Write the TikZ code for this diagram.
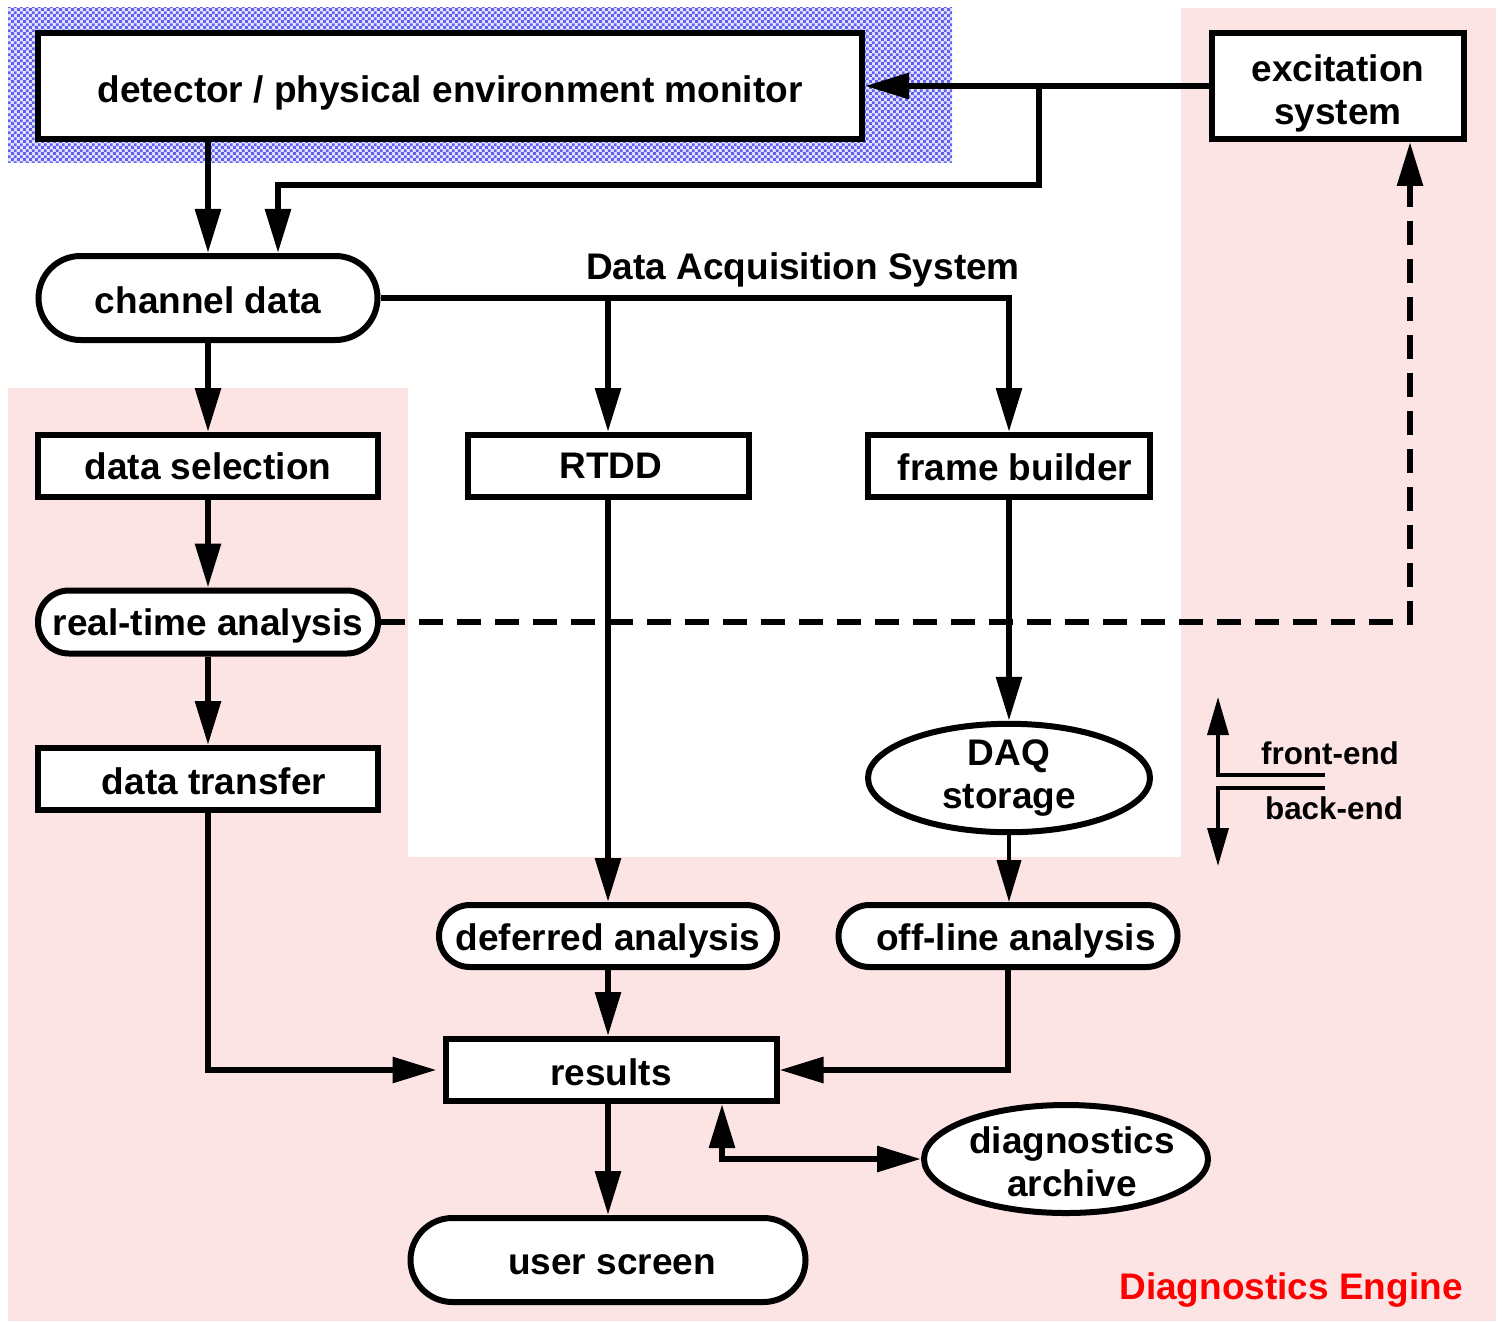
\documentclass[tikz,border=0pt]{standalone}
\usepackage{fontspec}
\setmainfont{Liberation Sans}
\usetikzlibrary{arrows.meta,calc,shapes.geometric,patterns}
\definecolor{pinkbg}{RGB}{253,228,228}
\definecolor{hatchlight}{RGB}{228,228,255}
\definecolor{hatchblue}{RGB}{95,95,242}
\pgfdeclarepatternformonly{bluecheck}{\pgfpointorigin}{\pgfqpoint{2.9pt}{2.9pt}}{\pgfqpoint{2.9pt}{2.9pt}}{%
  \pgfpathrectangle{\pgfpointorigin}{\pgfqpoint{1.45pt}{1.45pt}}%
  \pgfpathrectangle{\pgfqpoint{1.45pt}{1.45pt}}{\pgfqpoint{1.45pt}{1.45pt}}%
  \pgfusepath{fill}}
\newcommand{\lowtext}[2]{\raisebox{-#1}[\height][\depth]{#2}}
\begin{document}
\begin{tikzpicture}[x=0.5pt,y=-0.5pt,
  font=\fontsize{18.5}{21.5}\selectfont\bfseries,
  box/.style={draw,line width=3pt,fill=white,rectangle,inner sep=0pt,align=center},
  pill/.style={box,rounded corners=15.5pt},
  pillbig/.style={box,rounded corners=21pt},
  oval/.style={draw,line width=3pt,fill=white,ellipse,inner sep=0pt,align=center},
  arr/.style={line width=3pt,-{Triangle[length=22pt,width=12.5pt]}},
  arrboth/.style={line width=3pt,{Triangle[length=22pt,width=12.5pt]}-{Triangle[length=22pt,width=12.5pt]}},
  thinarr/.style={line width=2pt,-{Triangle[length=21pt,width=12pt]}},
  fbarr/.style={line width=1.8pt,-{Triangle[length=19pt,width=10.5pt]}},
  lbl/.style={inner sep=0pt},
  small/.style={font=\fontsize{15.7}{18}\selectfont\bfseries}
]
\useasboundingbox (0,0) rectangle (1502,1321);
% backgrounds
\fill[pinkbg] (8,388) -- (408,388) -- (408,857) -- (1181,857) -- (1181,8) -- (1496,8) -- (1496,1321) -- (8,1321) -- cycle;
\fill[hatchlight] (8,8) rectangle (952,163);
\fill[pattern=bluecheck,pattern color=hatchblue] (8,8) rectangle (952,163);

% nodes
\node[box,minimum width=412pt,minimum height=53pt] (det) at (450,86) {\lowtext{3.5pt}{detector / physical environment monitor}};
\node[box,minimum width=126pt,minimum height=53pt] (exc) at (1338,86) {\lowtext{4pt}{\begin{tabular}{@{}c@{}}excitation\\system\end{tabular}}};
\node[pillbig,minimum width=169.5pt,minimum height=42pt] (chan) at (208,298) {\lowtext{1pt}{channel data}};
\node[lbl] (das) at (803,270) {Data Acquisition System};
\node[box,minimum width=170pt,minimum height=31pt] (dsel) at (208,466) {data selection};
\node[box,minimum width=140.5pt,minimum height=31pt] (rtdd) at (608,466) {\hspace*{3pt}RTDD};
\node[box,minimum width=141pt,minimum height=31pt] (fb) at (1009,466) {\hspace*{6pt}\lowtext{0.5pt}{frame builder}};
\node[pill,minimum width=170pt,minimum height=31.5pt] (rta) at (208,622) {\lowtext{2pt}{real-time analysis}};
\node[box,minimum width=170pt,minimum height=31pt] (dtr) at (208,779) {\hspace*{6pt}\lowtext{1pt}{data transfer}};
\node[oval,minimum width=141pt,minimum height=53.5pt] (daq) at (1009,778) {DAQ\\storage};
\node[pill,minimum width=169pt,minimum height=31pt] (def) at (608,936) {\lowtext{2.5pt}{deferred analysis}};
\node[pill,minimum width=169.5pt,minimum height=31pt] (off) at (1008,936) {\hspace*{8pt}\lowtext{2.5pt}{off-line analysis}};
\node[box,minimum width=165.5pt,minimum height=31pt] (res) at (611,1070) {\lowtext{1pt}{results}};
\node[oval,minimum width=142pt,minimum height=54pt] (arch) at (1066,1159) {\raisebox{-4.5pt}[0.8\height][0.8\depth]{\makebox[90pt]{\hspace*{6pt}\begin{tabular}{@{}c@{}}diagnostics\\archive\end{tabular}}}};
\node[pillbig,minimum width=197.5pt,minimum height=42pt] (user) at (608,1260) {\hspace*{4pt}\lowtext{2.5pt}{user screen}};
\node[lbl,text=red] (de) at (1291,1290) {Diagnostics Engine};
\node[lbl,small] (fe) at (1330,753) {front-end};
\node[lbl,small] (be) at (1334,808) {back-end};

% connectors
\draw[arr] (chan.north |- det.south) -- (chan.north);
\draw[arr] (exc.west) -- (det.east);
\coordinate (j1) at (1039,86);
\coordinate (k1) at (278,185);
\draw[arr] (j1) |- (k1) -- (k1 |- chan.north);
\draw[arr] (chan.east) -| (fb.north);
\draw[arr] (rtdd.north |- chan.east) -- (rtdd.north);
\draw[arr] (chan.south) -- (dsel.north);
\draw[arr] (dsel.south) -- (rta.north);
\draw[arr] (rta.south) -- (dtr.north);
\draw[arr,dash pattern=on 12pt off 7pt] (rta.east) -| ($(exc.south)+(72,0)$);
\draw[arr] (rtdd.south) -- (def.north);
\draw[arr] (fb.south) -- (daq.north);
\draw[thinarr] (daq.south) -- (daq.south |- off.north);
\draw[arr] (def.south) -- (def.south |- res.north);
\draw[arr] (off.south) |- (res.east);
\draw[arr,shorten >=3pt] (dtr.south) |- (res.west);
\draw[arr] (user.north |- res.south) -- (user.north);
\draw[arrboth] ($(res.south)+(111,0)$) |- (arch.west);

% front-end / back-end marker
\coordinate (f1) at (1325,775);
\coordinate (f2) at (1218,775);
\coordinate (f3) at (1218,697);
\coordinate (b1) at (1325,788);
\coordinate (b2) at (1218,788);
\coordinate (b3) at (1218,866);
\draw[fbarr] (f1) -- (f2) -- (f3);
\draw[fbarr] (b1) -- (b2) -- (b3);
\end{tikzpicture}
\end{document}
